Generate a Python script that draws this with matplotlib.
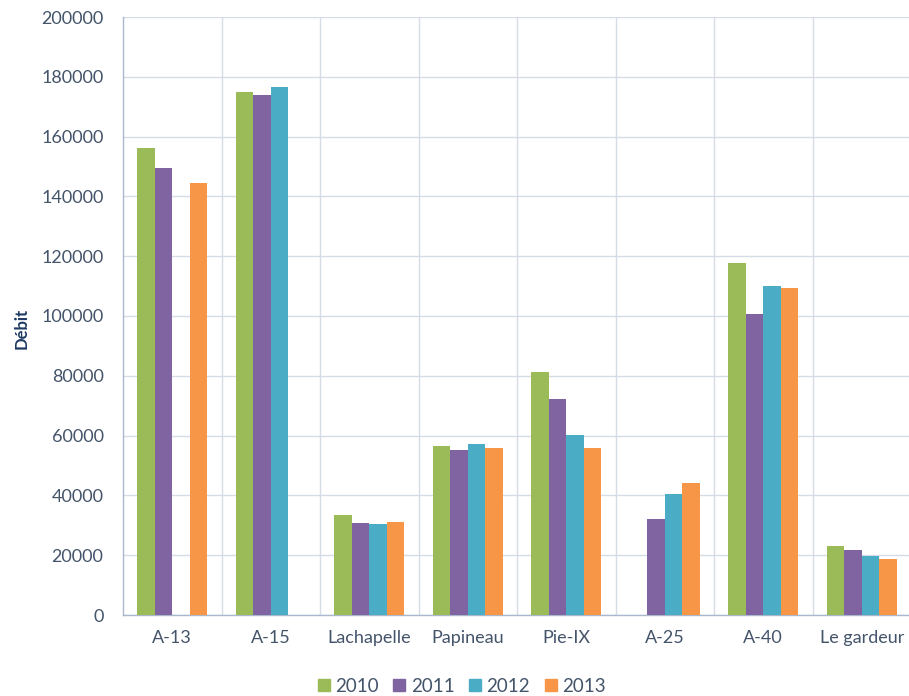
import numpy as np
import matplotlib.pyplot as plt
from matplotlib.lines import Line2D

# Traffic flow per crossing and year
crossings = ['A-13', 'A-15', 'Lachapelle', 'Papineau', 'Pie-IX',
             'A-25', 'A-40', 'Le gardeur']
years = ['2010', '2011', '2012', '2013']
flow_2010 = [156300, 174800, 33300, 56400, 81200, np.nan, 117600, 23200]
flow_2011 = [149400, 174000, 30900, 55100, 72100, 32100, 100700, 21600]
flow_2012 = [np.nan, 176500, 30400, 57300, 60200, 40400, 110100, 19800]
flow_2013 = [144600, np.nan, 31200, 55900, 55900, 44100, 109300, 18600]

colors = ['#9BBB59', '#8064A2', '#4BACC6', '#F79646']
text_color = '#44546A'

plt.rcParams['font.family'] = ['Lato', 'DejaVu Sans']

fig = plt.figure(figsize=(9.09, 6.96), dpi=100)
ax = fig.add_axes([123 / 909, 81 / 696, 788 / 909, 598 / 696])

x = np.arange(len(crossings))
bar_w = 0.178
series = [flow_2010, flow_2011, flow_2012, flow_2013]
for i, (vals, col) in enumerate(zip(series, colors)):
    ax.bar(x + (i - 1.5) * bar_w, vals, width=bar_w, color=col,
           zorder=3, linewidth=0)

ax.set_xlim(-0.5, len(crossings) - 0.5)
ax.set_ylim(0, 200000)
ax.set_yticks(np.arange(0, 200001, 20000))
ax.set_yticklabels([str(v) for v in range(0, 200001, 20000)])
ax.set_xticks(x)
ax.set_xticklabels(crossings)

# Grid: horizontal at each tick, vertical between categories
ax.yaxis.grid(True, color='#D5DCE6', linewidth=1, zorder=0)
for b in np.arange(0.5, len(crossings) - 0.5, 1):
    ax.axvline(b, color='#D5DCE6', linewidth=1, zorder=0)

for side in ['top', 'right']:
    ax.spines[side].set_visible(False)
for side in ['left', 'bottom']:
    ax.spines[side].set_color('#A9B8CC')
    ax.spines[side].set_linewidth(1)

ax.tick_params(axis='y', length=0, pad=14, labelsize=13,
               labelcolor=text_color)
ax.tick_params(axis='x', length=0, pad=11, labelsize=13,
               labelcolor=text_color)

fig.text(22 / 909, 1 - 328 / 696, 'Débit', rotation=90, ha='center',
         va='center', fontsize=12, fontweight='bold', color='#1F3B64')

handles = [Line2D([], [], marker='s', linestyle='none', markersize=9,
                  markerfacecolor=c, markeredgecolor=c) for c in colors]
fig.legend(handles, years, loc='center', ncol=4,
           bbox_to_anchor=(461 / 909, 1 - 686 / 696), frameon=False,
           fontsize=13.5, handlelength=0.8, handletextpad=0.2,
           columnspacing=0.7, labelcolor=text_color, borderaxespad=0)

fig.savefig('out.png', dpi=100)
